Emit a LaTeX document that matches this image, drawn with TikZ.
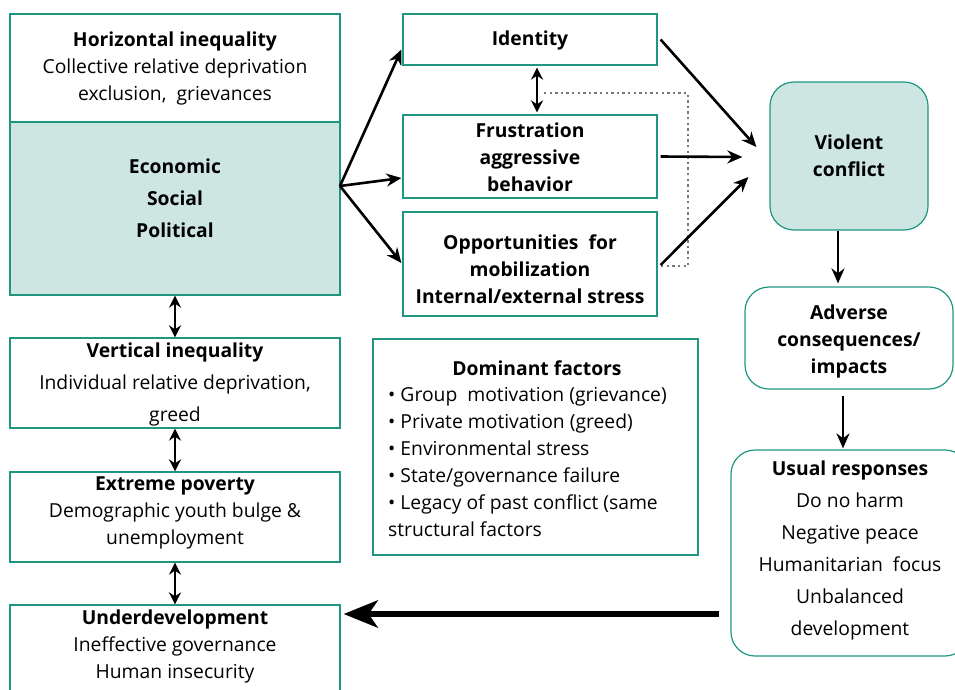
\documentclass[tikz,border=0pt]{standalone}
\usepackage{fontspec}
\setmainfont{Open Sans}
\usetikzlibrary{arrows.meta,calc}
\definecolor{tealb}{RGB}{30,150,130}
\definecolor{tealf}{RGB}{205,230,226}
\definecolor{dotgray}{RGB}{120,120,120}
\begin{document}
\begin{tikzpicture}[x=1pt,y=-1pt,
 box/.style={draw=tealb, line width=1.2pt, rectangle, inner sep=0pt},
 rbox/.style={box, rounded corners=24pt},
 txt/.style={align=center, font=\fontsize{19.3}{27}\selectfont, inner sep=0pt},
 txtw/.style={align=center, font=\fontsize{19.3}{32}\selectfont, inner sep=0pt},
 arr/.style={line width=2.6pt, -{Stealth[length=15pt,width=13pt]}},
 darr/.style={line width=2.8pt, {Stealth[length=12pt,width=12pt]}-{Stealth[length=12pt,width=12pt]}},
 bigarr/.style={line width=6.5pt, -{Stealth[length=34pt,width=27pt,inset=9pt]}},
 dots/.style={draw=dotgray, line width=2.3pt, dash pattern=on 2.3pt off 3.3pt}
]
\useasboundingbox (0,0) rectangle (955,689);

% boxes
\node[box, fill=white, minimum width=330pt, minimum height=108pt] (horiz) at (175,68) {};
\node[box, fill=tealf, minimum width=330pt, minimum height=173pt] (esp) at (175,208.5) {};
\node[box, minimum width=254pt, minimum height=51pt] (ident) at (530,39.5) {};
\node[box, minimum width=254pt, minimum height=83pt] (frust) at (530,156.5) {};
\node[box, minimum width=254pt, minimum height=104pt] (opp) at (530,264) {};
\node[rbox, fill=tealf, minimum width=158pt, minimum height=148pt] (viol) at (849,156) {};
\node[rbox, minimum width=208pt, minimum height=102pt] (adv) at (849,338) {};
\node[rbox, minimum width=238pt, minimum height=206pt] (usual) at (850,553) {};
\node[box, minimum width=330pt, minimum height=90pt] (vert) at (175,383) {};
\node[box, minimum width=330pt, minimum height=90pt] (extr) at (175,517) {};
\node[box, minimum width=330pt, minimum height=100pt] (under) at (175,655) {};
\node[box, minimum width=325pt, minimum height=216pt] (dom) at (535.5,447) {};

% texts
\node[txt] (horiz-t) at (175,68) {\textbf{Horizontal inequality}\\Collective relative deprivation\\exclusion,\ \ grievances};
\node[txtw] (esp-t) at (175,198) {\textbf{Economic}\\\textbf{Social}\\\textbf{Political}};
\node[txt] (ident-t) at (530,40) {\textbf{Identity}};
\node[txt] (frust-t) at (530,157) {\textbf{Frustration}\\\textbf{aggressive}\\\textbf{behavior}};
\node[txt] (opp-t) at (530,269) {\textbf{Opportunities\ \ for}\\\textbf{mobilization}\\\textbf{Internal/external stress}};
\node[txt] (viol-t) at (849,155.5) {\textbf{Violent}\\\textbf{conflict}};
\node[txt] (adv-t) at (849,341) {\textbf{Adverse}\\\textbf{consequences/}\\\textbf{impacts}};
\node[txtw] (usual-t) at (850,550) {\textbf{Usual responses}\\Do no harm\\Negative peace\\Humanitarian\ \ focus\\Unbalanced\\development};
\node[txtw] (vert-t) at (175,384) {\textbf{Vertical inequality}\\Individual relative deprivation,\\greed};
\node[txt] (extr-t) at (175,512.5) {\textbf{Extreme poverty}\\Demographic youth bulge \&\\unemployment};
\node[txt] (under-t) at (175,646.5) {\textbf{Underdevelopment}\\Ineffective governance\\Human insecurity};
\node[txt] (dom-t) at (537,368) {\textbf{Dominant factors}};
\node[txt, align=left, anchor=north west] (dom-l) at (388,387) {• Group\ \ motivation (grievance)\\• Private motivation (greed)\\• Environmental stress\\• State/governance failure\\• Legacy of past conflict (same\\structural factors};

% connectors
\coordinate (src) at (340,186);
\draw[arr] (src) -- ($(ident.west)+(-1,10)$);
\draw[arr] (src) -- ($(frust.west)+(-1,21.5)$);
\draw[arr] (src) -- ($(opp.west)+(-1,-1)$);
\draw[darr] ($(ident.south)+(7,2)$) -- ($(frust.north)+(7,-2)$);
\coordinate (d0) at (544,93);
\draw[dots] (d0) -- (688,93) -- (688,266) -- ($(opp.east)+(2,2)$);
\draw[arr] ($(ident.east)+(3,0)$) -- ($(viol.west)+(-13,-9)$);
\draw[arr] ($(frust.east)+(3,0)$) -- ($(viol.west)+(-27,1)$);
\draw[arr] ($(opp.east)+(3,1)$) -- ($(viol.west)+(-21,21)$);
\draw[arr] ($(viol.south)+(-11,0)$) -- ($(adv.north)+(-11,-3)$);
\draw[arr] ($(adv.south)+(-6,6)$) -- ($(usual.north)+(-7,-1)$);
\draw[bigarr] ($(usual.west)+(-11,61)$) -- ($(under.east)+(3,-41)$);
\draw[darr] (esp.south) -- (vert.north);
\draw[darr] (vert.south) -- (extr.north);
\draw[darr] (extr.south) -- (under.north);
\end{tikzpicture}
\end{document}
